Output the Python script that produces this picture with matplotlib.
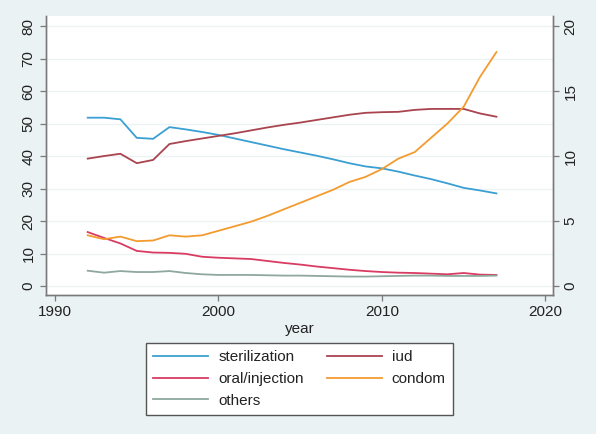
import matplotlib
matplotlib.use("Agg")
import matplotlib.pyplot as plt

plt.rcParams["font.family"] = ["Liberation Sans", "DejaVu Sans"]

years = list(range(1992, 2018))

sterilization = [51.8, 51.8, 51.3, 45.6, 45.3, 48.9, 48.2, 47.4, 46.5, 45.4,
                 44.3, 43.2, 42.1, 41.1, 40.1, 39.0, 37.8, 36.8, 36.2, 35.2,
                 34.0, 32.9, 31.6, 30.2, 29.4, 28.5]
iud = [39.2, 40.0, 40.7, 37.8, 38.8, 43.7, 44.6, 45.4, 46.2, 47.0,
       47.9, 48.8, 49.6, 50.3, 51.1, 51.9, 52.7, 53.3, 53.5, 53.6,
       54.2, 54.5, 54.5, 54.5, 53.1, 52.1]
oral_injection = [16.6, 14.8, 13.1, 10.8, 10.3, 10.2, 9.9, 9.0, 8.7, 8.5,
                  8.3, 7.7, 7.1, 6.6, 6.0, 5.5, 5.0, 4.6, 4.3, 4.1,
                  4.0, 3.8, 3.6, 4.0, 3.5, 3.4]
others = [4.7, 4.1, 4.6, 4.3, 4.3, 4.6, 4.0, 3.6, 3.4, 3.4,
          3.4, 3.3, 3.2, 3.2, 3.1, 3.0, 2.9, 2.9, 3.0, 3.1,
          3.2, 3.2, 3.1, 3.1, 3.1, 3.2]
# condom is plotted against the right-hand axis
condom = [3.9, 3.6, 3.8, 3.45, 3.5, 3.9, 3.8, 3.9, 4.25, 4.6,
          4.95, 5.4, 5.9, 6.4, 6.9, 7.4, 8.0, 8.4, 9.0, 9.8,
          10.3, 11.4, 12.5, 13.8, 16.1, 18.0]

left_ticks = [0, 10, 20, 30, 40, 50, 60, 70, 80]
right_ticks = [0, 5, 10, 15, 20]
x_ticks = [1990, 2000, 2010, 2020]

bg = "#eaf2f3"
axis_col = "#7a7a7a"
c_ster = "#3a9fd2"
c_iud = "#a9444f"
c_oral = "#d93b62"
c_condom = "#f39b2e"
c_others = "#8fa89e"

fig = plt.figure(figsize=(5.96, 4.34), dpi=100, facecolor=bg)
ax = fig.add_axes([46 / 596, 1 - 295 / 434, (553 - 46) / 596, (295 - 16) / 434])
ax.set_facecolor("white")
ax2 = ax.twinx()

lw = 1.3
l1, = ax.plot(years, sterilization, color=c_ster, lw=lw)
l2, = ax.plot(years, iud, color=c_iud, lw=lw)
l3, = ax.plot(years, oral_injection, color=c_oral, lw=lw)
l5, = ax.plot(years, others, color=c_others, lw=lw)
l4, = ax2.plot(years, condom, color=c_condom, lw=lw)

ax.set_xlim(1989.45, 2020.46)
ax.set_ylim(-2.77, 83.1)
ax2.set_ylim(-2.77 / 4, 83.1 / 4)

ax.set_xticks(x_ticks)
ax.set_yticks(left_ticks)
ax2.set_yticks(right_ticks)
ax.yaxis.grid(True, color="#edf3f4", lw=1.0)
ax.set_axisbelow(True)

for a in (ax, ax2):
    a.spines["top"].set_visible(False)
    for s in ("left", "right", "bottom"):
        a.spines[s].set_color(axis_col)
        a.spines[s].set_linewidth(1.0)
    a.tick_params(colors=axis_col, labelcolor="#222222", labelsize=11,
                  length=4, width=0.9)

for lab in ax.get_yticklabels() + ax2.get_yticklabels():
    lab.set_rotation(90)
    lab.set_va("center")

ax.set_xlabel("year", fontsize=11, color="#222222", labelpad=2)

# two-column legend, filled column by column
leg = fig.legend(handles=[l1, l3, l5, l2, l4],
                 labels=["sterilization", "oral/injection", "others", "iud", "condom"],
                 ncol=2, loc="center",
                 bbox_to_anchor=((146 + 453) / 2 / 596, 1 - 379 / 434),
                 fontsize=11, frameon=True, fancybox=False,
                 handlelength=3.6, handletextpad=0.65, columnspacing=1.5,
                 labelspacing=0.5, borderaxespad=0.0, borderpad=0.45)
leg.get_frame().set_edgecolor("#555555")
leg.get_frame().set_facecolor("white")
leg.get_frame().set_alpha(1.0)
leg.get_frame().set_linewidth(1.0)
for t in leg.get_texts():
    t.set_color("#222222")

fig.savefig("out.png", dpi=100, facecolor=bg)
